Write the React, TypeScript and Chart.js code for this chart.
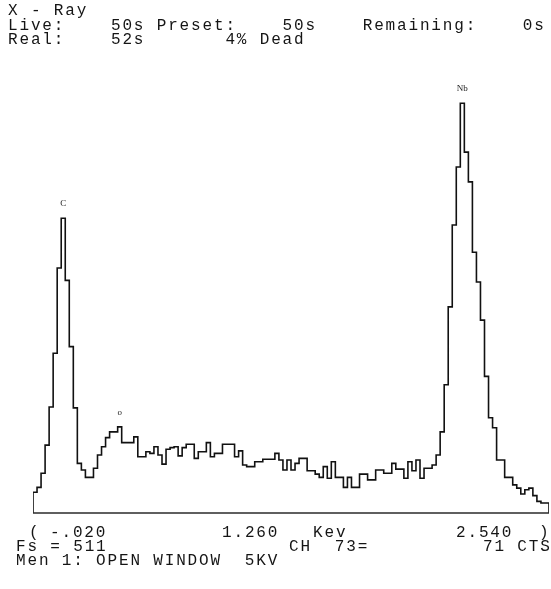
import React, { useEffect, useRef } from "react";
import { Chart, registerables } from "chart.js";

Chart.register(...registerables);

// Energy axis (keV) as printed under the spectrum
const START_KEV = -0.02;
const END_KEV = 2.54;
const MID_KEV = 1.26;
const FULL_SCALE = 511; // "Fs = 511"

// Counts per channel (128 channels of 20 eV)
const counts: number[] = [
  25, 31, 48, 82, 128, 193, 296, 356, 281, 201,
  127, 60, 52, 43, 43, 54, 70, 80, 91, 98,
  98, 104, 85, 85, 85, 92, 68, 68, 74, 72,
  80, 70, 59, 77, 79, 80, 69, 79, 83, 83,
  66, 74, 74, 85, 68, 72, 72, 83, 83, 83,
  68, 75, 58, 56, 56, 62, 62, 65, 65, 65,
  72, 64, 52, 64, 52, 60, 66, 66, 51, 51,
  47, 43, 56, 42, 62, 43, 43, 31, 43, 31,
  31, 47, 47, 40, 40, 52, 52, 48, 48, 60,
  53, 53, 42, 62, 51, 64, 42, 54, 54, 58,
  70, 98, 155, 249, 348, 418, 495, 436, 400, 315,
  279, 233, 165, 115, 103, 64, 64, 43, 43, 34,
  30, 23, 28, 30, 21, 14, 12, 12,
];

// Element markers
const peakLabels: string[] = ["C", "o", "Nb"];
const peakChannels: number[] = [7, 21, 106];

// Header / footer text
const headerLines: string[] = [
  "X - Ray",
  "Live:    50s Preset:    50s    Remaining:    0s",
  "Real:    52s       4% Dead",
];
const cursorChannel = 73;
const cursorCounts = 71;
const memoText = "Men 1: OPEN WINDOW  5KV";

const monoStyle: React.CSSProperties = {
  position: "absolute",
  fontFamily: "'Liberation Mono', 'DejaVu Sans Mono', monospace",
  fontSize: "16px",
  letterSpacing: "1.84px",
  lineHeight: "16px",
  whiteSpace: "pre",
  color: "#151515",
  margin: 0,
};

export default function App() {
  const canvasRef = useRef<HTMLCanvasElement | null>(null);

  useEffect(() => {
    const canvas = canvasRef.current;
    if (!canvas) return;
    const width = (END_KEV - START_KEV) / counts.length;
    const points: { x: number; y: number }[] = [{ x: START_KEV, y: 0 }];
    counts.forEach((c, i) => points.push({ x: START_KEV + i * width, y: c }));
    points.push({ x: END_KEV, y: 0 });

    const extras = {
      id: "extras",
      afterDatasetsDraw(chart: any) {
        const { ctx, chartArea, scales } = chart;
        const y0 = scales.y.getPixelForValue(0);
        ctx.save();
        ctx.strokeStyle = "#2a2a2a";
        ctx.lineWidth = 1.3;
        ctx.beginPath();
        ctx.moveTo(chartArea.left, y0);
        ctx.lineTo(chartArea.right, y0);
        ctx.stroke();
        ctx.fillStyle = "#222";
        ctx.font = "9px 'Liberation Serif', serif";
        ctx.textAlign = "center";
        ctx.textBaseline = "bottom";
        peakLabels.forEach((lab, k) => {
          const ch = peakChannels[k];
          const px = scales.x.getPixelForValue(START_KEV + (ch + 0.5) * width);
          const py = scales.y.getPixelForValue(counts[ch]);
          ctx.fillText(lab, px, py - 10);
        });
        ctx.restore();
      },
    };

    const chart = new Chart(canvas, {
      type: "line",
      data: {
        datasets: [
          {
            data: points,
            stepped: "before",
            borderColor: "#111",
            borderWidth: 1.6,
            pointRadius: 0,
            fill: false,
            tension: 0,
          } as any,
        ],
      },
      options: {
        animation: false,
        responsive: false,
        maintainAspectRatio: false,
        layout: { padding: { left: 33, right: 2, top: 90, bottom: 76 } },
        scales: {
          x: { type: "linear", min: START_KEV, max: END_KEV, display: false },
          y: { min: 0, max: FULL_SCALE, display: false },
        },
        plugins: { legend: { display: false }, tooltip: { enabled: false } },
      },
      plugins: [extras],
    });
    return () => chart.destroy();
  }, []);

  const fmt = (v: number) => (v < 0 ? "-" + Math.abs(v).toFixed(3).slice(1) : v.toFixed(3));

  return (
    <div style={{ position: "fixed", left: 0, top: 0, width: 551, height: 589, background: "#fff", overflow: "hidden" }}>
      <canvas ref={canvasRef} width={551} height={589} style={{ position: "absolute", left: 0, top: 0, width: 551, height: 589 }} />
      {headerLines.map((t, i) => (
        <div key={i} style={{ ...monoStyle, left: 8, top: 3 + i * 14.5 }}>{t}</div>
      ))}
      <div style={{ ...monoStyle, left: 29, top: 525 }}>(</div>
      <div style={{ ...monoStyle, left: 50, top: 525 }}>{fmt(START_KEV)}</div>
      <div style={{ ...monoStyle, left: 222, top: 525 }}>{fmt(MID_KEV)}</div>
      <div style={{ ...monoStyle, left: 313, top: 525 }}>Kev</div>
      <div style={{ ...monoStyle, left: 456, top: 525 }}>{fmt(END_KEV)}</div>
      <div style={{ ...monoStyle, left: 539, top: 525 }}>)</div>
      <div style={{ ...monoStyle, left: 16, top: 539 }}>{"Fs = " + FULL_SCALE}</div>
      <div style={{ ...monoStyle, left: 289, top: 539 }}>{"CH  " + cursorChannel + "="}</div>
      <div style={{ ...monoStyle, left: 483, top: 539 }}>{cursorCounts + " CTS"}</div>
      <div style={{ ...monoStyle, left: 16, top: 553 }}>{memoText}</div>
    </div>
  );
}
